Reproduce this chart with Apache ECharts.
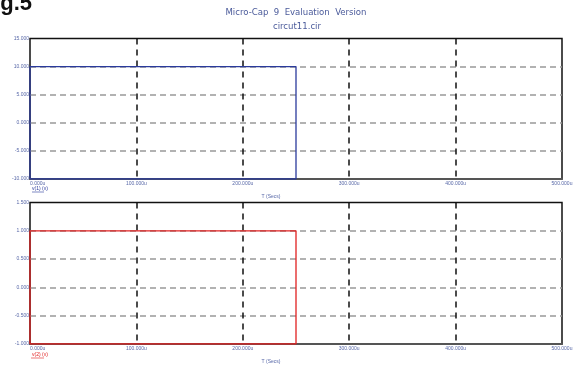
<!DOCTYPE html>
<html>
<head>
<meta charset="utf-8">
<script src="https://cdn.jsdelivr.net/npm/echarts@6/dist/echarts.min.js"></script>
<style>
  html, body { margin: 0; padding: 0; background: #fff; }
  #chart { width: 582px; height: 369px; }
</style>
</head>
<body>
<div id="chart"></div>
<script>
// transient run, time in microseconds
const timeUs = [0, 0, 250, 250, 0];
const v1 = [-10, 10, 10, -10, -10];
const v2 = [-1, 1, 1, -1, -1];

const xTicks = { min: 0, max: 500, interval: 100 };
const y1Ticks = { min: -10, max: 15, interval: 5 };
const y2Ticks = { min: -1, max: 1.5, interval: 0.5 };

const labelBlue = '#5868a8';
const smallFont = '5px Arial, "Liberation Sans", sans-serif';
const titleFont = '"Liberation Sans Narrow", "DejaVu Sans Condensed", sans-serif';

const chart = echarts.init(document.getElementById('chart'));

function xAxisFor(gridIndex) {
    return {
        type: 'value',
        gridIndex: gridIndex,
        min: xTicks.min,
        max: xTicks.max,
        interval: xTicks.interval,
        axisLine: { show: true, onZero: false, lineStyle: { color: '#555', width: 2 } },
        axisTick: { show: false },
        axisLabel: {
            margin: 2,
            fontSize: 5,
            color: labelBlue,
            fontFamily: 'Arial, "Liberation Sans", sans-serif',
            alignMinLabel: 'left',
            formatter: (v) => v.toFixed(3) + 'u',
        },
        splitLine: {
            show: true,
            showMinLine: false,
            showMaxLine: false,
            lineStyle: { color: '#111', width: 1.5, type: [6, 5] },
        },
    };
}

function yAxisFor(gridIndex, ticks) {
    return {
        type: 'value',
        gridIndex: gridIndex,
        min: ticks.min,
        max: ticks.max,
        interval: ticks.interval,
        axisLine: { show: false },
        axisTick: { show: false },
        axisLabel: {
            margin: 1,
            fontSize: 5,
            color: labelBlue,
            fontFamily: 'Arial, "Liberation Sans", sans-serif',
            formatter: (v) => v.toFixed(3),
        },
        splitLine: {
            show: true,
            showMinLine: false,
            showMaxLine: false,
            lineStyle: { color: '#999', width: 1.5, type: [6, 4] },
        },
    };
}

const option = {
    animation: false,
    backgroundColor: '#fff',
    grid: [
        { left: 30, top: 38.5, width: 532, height: 140.5, show: true, borderColor: '#111', borderWidth: 1.5 },
        { left: 30, top: 202.5, width: 532, height: 141.5, show: true, borderColor: '#111', borderWidth: 1.5 },
    ],
    xAxis: [xAxisFor(0), xAxisFor(1)],
    yAxis: [yAxisFor(0, y1Ticks), yAxisFor(1, y2Ticks)],
    series: [
        {
            name: 'v(1) (v)',
            type: 'line',
            xAxisIndex: 0,
            yAxisIndex: 0,
            data: timeUs.map((t, i) => [t, v1[i]]),
            showSymbol: false,
            lineStyle: { color: '#2a3a9c', width: 1.3 },
            z: 5,
        },
        {
            name: 'v(2) (v)',
            type: 'line',
            xAxisIndex: 1,
            yAxisIndex: 1,
            data: timeUs.map((t, i) => [t, v2[i]]),
            showSymbol: false,
            lineStyle: { color: '#e02020', width: 1.3 },
            z: 5,
        },
    ],
    graphic: [
        {
            type: 'text', x: 32, y: 15,
            style: { text: 'Fig.5', font: 'bold 22px Arial, "Liberation Sans", sans-serif', fill: '#111', align: 'right', verticalAlign: 'bottom' },
        },
        {
            type: 'text', x: 296, y: 13,
            style: { text: 'Micro-Cap  9  Evaluation  Version', font: '9.5px ' + titleFont, fill: '#4a5a9a', align: 'center', verticalAlign: 'middle' },
        },
        {
            type: 'text', x: 297, y: 27,
            style: { text: 'circut11.cir', font: '9.5px ' + titleFont, fill: '#4a5a9a', align: 'center', verticalAlign: 'middle' },
        },
        {
            type: 'text', x: 271, y: 197,
            style: { text: 'T (Secs)', font: smallFont, fill: labelBlue, align: 'center', verticalAlign: 'middle' },
        },
        {
            type: 'text', x: 271, y: 361.5,
            style: { text: 'T (Secs)', font: smallFont, fill: labelBlue, align: 'center', verticalAlign: 'middle' },
        },
        {
            type: 'text', x: 32, y: 189,
            style: { text: 'v(1) (v)', font: smallFont, fill: '#2a3a9c', align: 'left', verticalAlign: 'middle' },
        },
        { type: 'line', shape: { x1: 32, y1: 192, x2: 44, y2: 192 }, style: { stroke: '#2a3a9c', lineWidth: 0.6 } },
        {
            type: 'text', x: 32, y: 355,
            style: { text: 'v(2) (v)', font: smallFont, fill: '#e02020', align: 'left', verticalAlign: 'middle' },
        },
        { type: 'line', shape: { x1: 31, y1: 358, x2: 44, y2: 358 }, style: { stroke: '#e02020', lineWidth: 0.6 } },
    ],
};

chart.setOption(option);
</script>
</body>
</html>
